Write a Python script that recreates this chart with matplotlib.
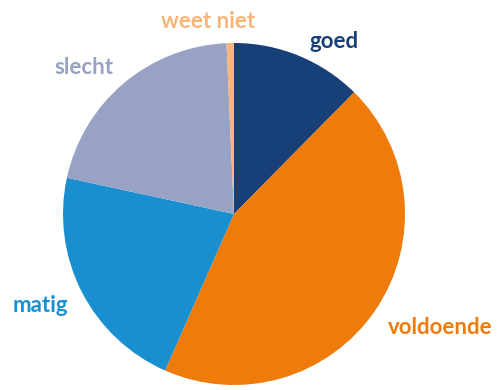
import matplotlib
matplotlib.use("Agg")
import matplotlib.pyplot as plt

categories = ["goed", "voldoende", "matig", "slecht", "weet niet"]
values = [12.4, 44.2, 21.8, 20.9, 0.7]
colors = ["#173F78", "#EE7B0A", "#1A8FD0", "#97A2C5", "#F8B57A"]

# label positions (pixel coords, top-left origin)
label_pos = {"goed": (334, 42), "voldoende": (440, 328), "matig": (40, 306),
             "slecht": (84, 67), "weet niet": (208, 22)}

W, H = 500, 390
fig = plt.figure(figsize=(W / 100, H / 100), dpi=100)
ax = fig.add_axes([0, 0, 1, 1])

ax.pie(values, colors=colors, startangle=90, counterclock=False,
       center=(234, H - 214), radius=171, frame=True,
       wedgeprops=dict(linewidth=0))
ax.set_xlim(0, W)
ax.set_ylim(0, H)
ax.set_aspect("equal")
ax.axis("off")

for cat, col in zip(categories, colors):
    x, y = label_pos[cat]
    ax.text(x, H - y, cat, color=col, fontsize=16, fontweight="bold",
            family="Lato", ha="center", va="center")

fig.savefig("out.png", dpi=100)
